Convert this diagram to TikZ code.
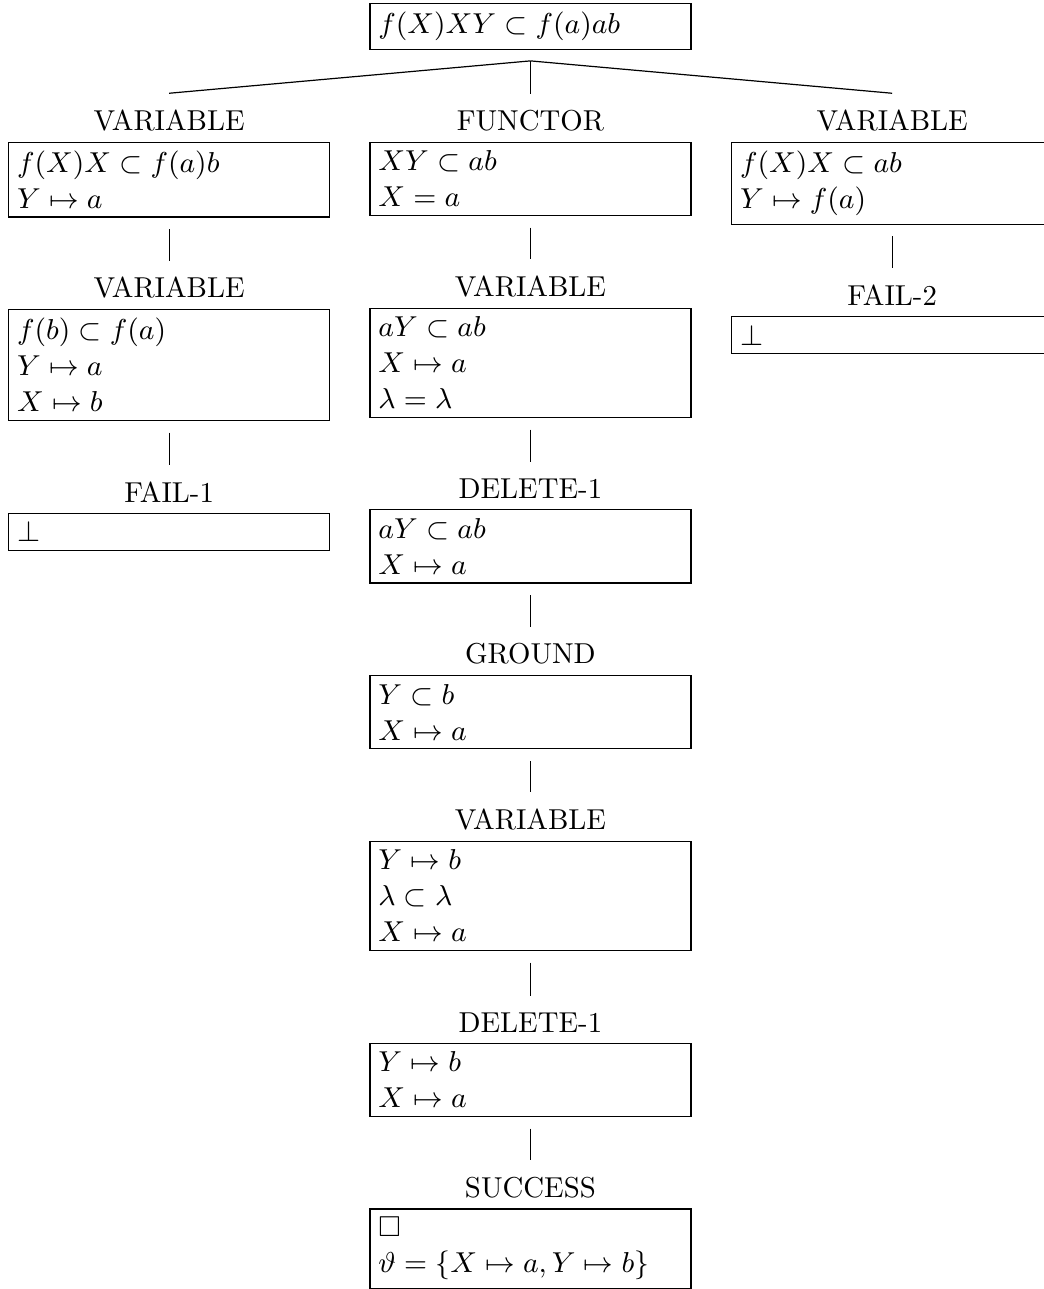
\RequirePackage{fix-cm}
\documentclass[tikz,border=0pt]{standalone}
\usepackage{amssymb}
\begin{document}
\begin{tikzpicture}[x=0.33333pt,y=-0.33333pt,
  every node/.style={font=\fontsize{9.6}{12}\selectfont},
  box/.style={draw, line width=0.4pt, anchor=north west, text width=101.3pt, align=left, inner sep=2.85pt},
  lab/.style={anchor=south, inner sep=3.33pt},
  conn/.style={line width=0.4pt}]
\useasboundingbox (0,0) rectangle (1043,1289);

% top
\node[box] (top) at (369.3,2.7) {$f(X)XY\subset f(a)ab$};

% left column
\node[box] (L1) at (8,141.7) {$f(X)X\subset f(a)b$\\$Y\mapsto a$};
\node[lab] (L1l) at (L1.north) {VARIABLE};
\node[box] (L2) at (8,309) {$f(b)\subset f(a)$\\$Y\mapsto a$\\$X\mapsto b$};
\node[lab] (L2l) at (L2.north) {VARIABLE};
\node[box] (L3) at (8,512.7) {$\bot$};
\node[lab] (L3l) at (L3.north) {FAIL-1};

% center column
\node[box] (C1) at (369.3,141.7) {$XY\subset ab$\\$X=a$};
\node[lab] (C1l) at (C1.north) {FUNCTOR};
\node[box] (C2) at (369.3,307.7) {$aY\subset ab$\\$X\mapsto a$\\$\lambda=\lambda$};
\node[lab] (C2l) at (C2.north) {VARIABLE};
\node[box] (C3) at (369.3,509.3) {$aY\subset ab$\\$X\mapsto a$};
\node[lab] (C3l) at (C3.north) {DELETE-1};
\node[box] (C4) at (369.3,675) {$Y\subset b$\\$X\mapsto a$};
\node[lab] (C4l) at (C4.north) {GROUND};
\node[box] (C5) at (369.3,840.7) {$Y\mapsto b$\\$\lambda\subset\lambda$\\$X\mapsto a$};
\node[lab] (C5l) at (C5.north) {VARIABLE};
\node[box] (C6) at (369.3,1042.7) {$Y\mapsto b$\\$X\mapsto a$};
\node[lab] (C6l) at (C6.north) {DELETE-1};
\node[box] (C7) at (369.3,1208.3) {$\Box$\\$\vartheta=\{X\mapsto a,Y\mapsto b\}$};
\node[lab] (C7l) at (C7.north) {SUCCESS};

% right column
\node[box] (R1) at (731,141.7) {$f(X)X\subset ab$\\$Y\mapsto f(a)$};
\node[lab] (R1l) at (R1.north) {VARIABLE};
\node[box] (R2) at (731,316) {$\bot$};
\node[lab] (R2l) at (R2.north) {FAIL-2};

% connectors
\coordinate (fork) at ([yshift=-3.7pt]top.south);
\draw[conn] (fork) -- ([yshift=2pt]L1l.north);
\draw[conn] (fork) -- ([yshift=2pt]C1l.north);
\draw[conn] (fork) -- ([yshift=2pt]R1l.north);

\draw[conn] ([yshift=-3.9pt]L1.south) -- ([yshift=2pt]L2l.north);
\draw[conn] ([yshift=-3.9pt]L2.south) -- ([yshift=2pt]L3l.north);

\draw[conn] ([yshift=-3.9pt]C1.south) -- ([yshift=2pt]C2l.north);
\draw[conn] ([yshift=-3.9pt]C2.south) -- ([yshift=2pt]C3l.north);
\draw[conn] ([yshift=-3.9pt]C3.south) -- ([yshift=2pt]C4l.north);
\draw[conn] ([yshift=-3.9pt]C4.south) -- ([yshift=2pt]C5l.north);
\draw[conn] ([yshift=-3.9pt]C5.south) -- ([yshift=2pt]C6l.north);
\draw[conn] ([yshift=-3.9pt]C6.south) -- ([yshift=2pt]C7l.north);

\draw[conn] ([yshift=-3.9pt]R1.south) -- ([yshift=2pt]R2l.north);
\end{tikzpicture}
\end{document}
